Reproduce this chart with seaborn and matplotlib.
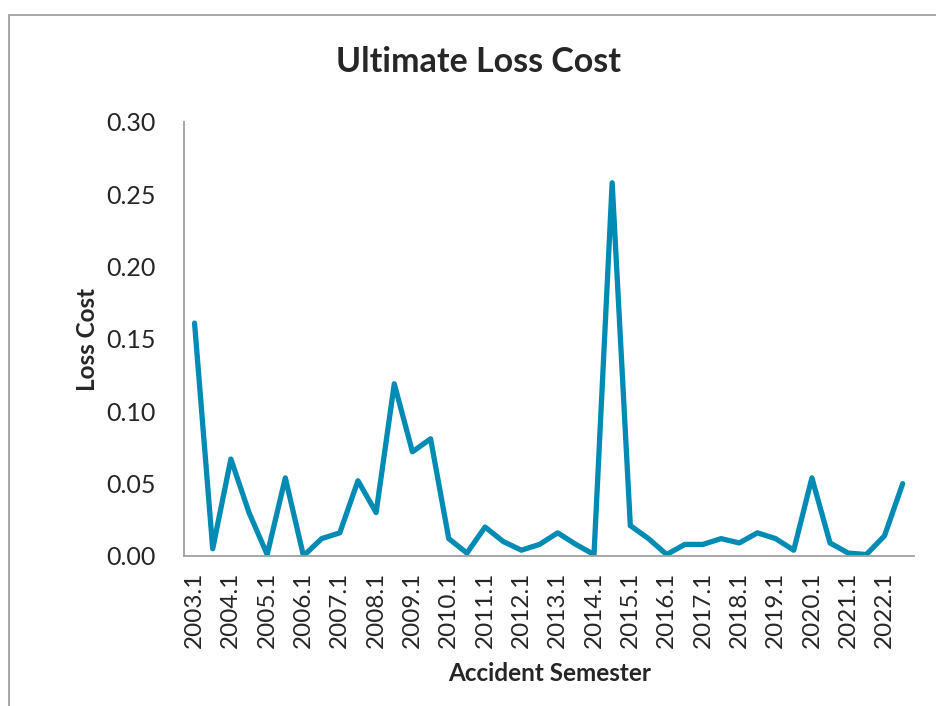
import matplotlib
matplotlib.use('Agg')
import matplotlib.pyplot as plt
import numpy as np
import pandas as pd
import seaborn as sns

# semestres de acidente
semesters = ['2003.1', '2003.2', '2004.1', '2004.2', '2005.1', '2005.2', '2006.1', '2006.2',
             '2007.1', '2007.2', '2008.1', '2008.2', '2009.1', '2009.2', '2010.1', '2010.2',
             '2011.1', '2011.2', '2012.1', '2012.2', '2013.1', '2013.2', '2014.1', '2014.2',
             '2015.1', '2015.2', '2016.1', '2016.2', '2017.1', '2017.2', '2018.1', '2018.2',
             '2019.1', '2019.2', '2020.1', '2020.2', '2021.1', '2021.2', '2022.1', '2022.2']

loss_cost = [0.161, 0.005, 0.067, 0.030, 0.001, 0.054, 0.000, 0.012,
             0.016, 0.052, 0.030, 0.119, 0.072, 0.081, 0.012, 0.002,
             0.020, 0.010, 0.004, 0.008, 0.016, 0.008, 0.001, 0.258,
             0.021, 0.012, 0.001, 0.008, 0.008, 0.012, 0.009, 0.016,
             0.012, 0.004, 0.054, 0.009, 0.002, 0.001, 0.014, 0.050]

y_ticks = [0.00, 0.05, 0.10, 0.15, 0.20, 0.25, 0.30]

df = pd.DataFrame({'pos': np.arange(len(semesters)), 'semester': semesters, 'loss': loss_cost})

sns.set_style('white')
plt.rcParams['font.family'] = ['Lato', 'DejaVu Sans']

fig = plt.figure(figsize=(9.37, 7.06), dpi=100)
ax = fig.add_axes([0.196, 0.2125, 0.779, 0.6147])

sns.lineplot(data=df, x='pos', y='loss', ax=ax, color='#008BB5', linewidth=3.8,
             solid_joinstyle='round', solid_capstyle='round')

ax.set_xlim(-0.6, len(semesters) - 0.4)
ax.set_ylim(0, 0.30)
ax.set_yticks(y_ticks)
ax.set_yticklabels([f'{v:.2f}' for v in y_ticks], fontsize=18)
ax.set_xticks(df['pos'][::2])
ax.set_xticklabels(df['semester'][::2], rotation=90, fontsize=17.5)
ax.tick_params(axis='y', length=0, pad=20)
ax.tick_params(axis='x', length=0, pad=11)

for s in ['top', 'right']:
    ax.spines[s].set_visible(False)
for s in ['left', 'bottom']:
    ax.spines[s].set_color('#A0A0A0')
    ax.spines[s].set_linewidth(1.3)

ax.set_xlabel('Accident Semester', fontsize=17.5, fontweight='bold')
ax.set_ylabel('Loss Cost', fontsize=17.5, fontweight='bold')
ax.xaxis.set_label_coords(0.501, -0.245)
ax.yaxis.set_label_coords(-0.116, 0.498)
fig.text(0.511, 0.912, 'Ultimate Loss Cost', ha='center', va='center',
         fontsize=24.5, fontweight='bold')

# moldura do grafico
fig.add_artist(plt.Line2D([9 / 937, 1.0], [1 - 15 / 706, 1 - 15 / 706],
                          transform=fig.transFigure, color='#A0A0A0', linewidth=1.3))
fig.add_artist(plt.Line2D([9 / 937, 9 / 937], [0.0, 1 - 15 / 706],
                          transform=fig.transFigure, color='#A0A0A0', linewidth=1.3))

fig.savefig('out.png', dpi=100)
